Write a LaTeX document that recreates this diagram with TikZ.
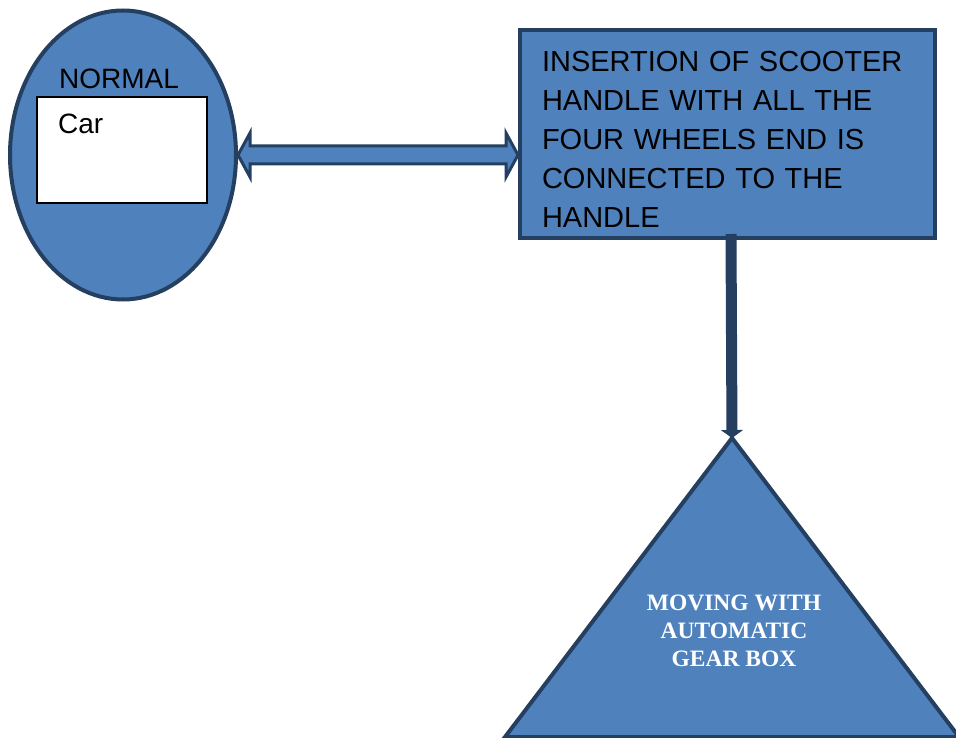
\documentclass[tikz,border=0pt]{standalone}
\usepackage{fontspec}
\setmainfont{Liberation Sans}
\newfontfamily\timesbf{Liberation Serif}
\usetikzlibrary{shapes.geometric,arrows.meta,calc}
\definecolor{fillblue}{HTML}{4F81BD}
\definecolor{edgeblue}{HTML}{243F60}

\begin{document}
\begin{tikzpicture}[x=1pt,y=-1pt,
  ovalnode/.style={ellipse,draw=edgeblue,fill=fillblue,line width=4pt,minimum width=226pt,minimum height=289pt,inner sep=0pt},
  boxnode/.style={rectangle,draw=edgeblue,fill=fillblue,line width=4pt,minimum width=415pt,minimum height=208pt,
    text width=371pt,inner xsep=22pt,inner ysep=0pt,align=left,font=\fontsize{29}{39}\selectfont},
  fatarrow/.style={draw=edgeblue,fill=fillblue,line width=3pt,line join=miter},
  stem/.style={draw=edgeblue,line width=11pt,-{Triangle[width=22pt,length=8pt]}}]
\useasboundingbox (0,0) rectangle (956,738);
% left oval with the white box
\node [ovalnode] (ell) at (123,155) {};
\node [anchor=base,font=\fontsize{28}{34}\selectfont] (normal) at (119,89) {NORMAL};
\node [draw=black,fill=white,line width=1.5pt,minimum width=170pt,minimum height=106pt] (carbox) at (122,150) {};
\node [anchor=base west,inner sep=0pt,font=\fontsize{28}{34}\selectfont] (car) at (58,134) {Car};
% right box
\node [boxnode] (ins) at (727.5,134) {\rule{0pt}{31pt}INSERTION OF SCOOTER\\HANDLE WITH ALL THE\\FOUR WHEELS END IS\\CONNECTED TO THE\\HANDLE};
% triangle
\coordinate (apex) at (732,438);
\coordinate (bl) at (505,737);
\coordinate (br) at (959,737);
\draw [draw=edgeblue,fill=fillblue,line width=4pt,line join=miter] (apex) -- (br) -- (bl) -- cycle;
\node [align=center,text=white,font=\timesbf\bfseries\fontsize{23.5}{28}\selectfont] (gear) at (734,631) {MOVING WITH\\AUTOMATIC\\GEAR BOX};
% double arrow between oval and box
\coordinate (la) at (ell.east);
\coordinate (ra) at (ins.west |- ell.east);
\draw [fatarrow] (la) -- ++(12,-22) -- ++(0,13) -- ($(ra)+(-12,-9)$) -- ++(0,-13) -- (ra)
  -- ++(-12,22) -- ++(0,-13) -- ($(la)+(12,9)$) -- ++(0,13) -- cycle;
% down arrow to triangle
\draw [stem] ([xshift=3.5pt,yshift=6pt]ins.south) -- (apex);
\end{tikzpicture}
\end{document}
